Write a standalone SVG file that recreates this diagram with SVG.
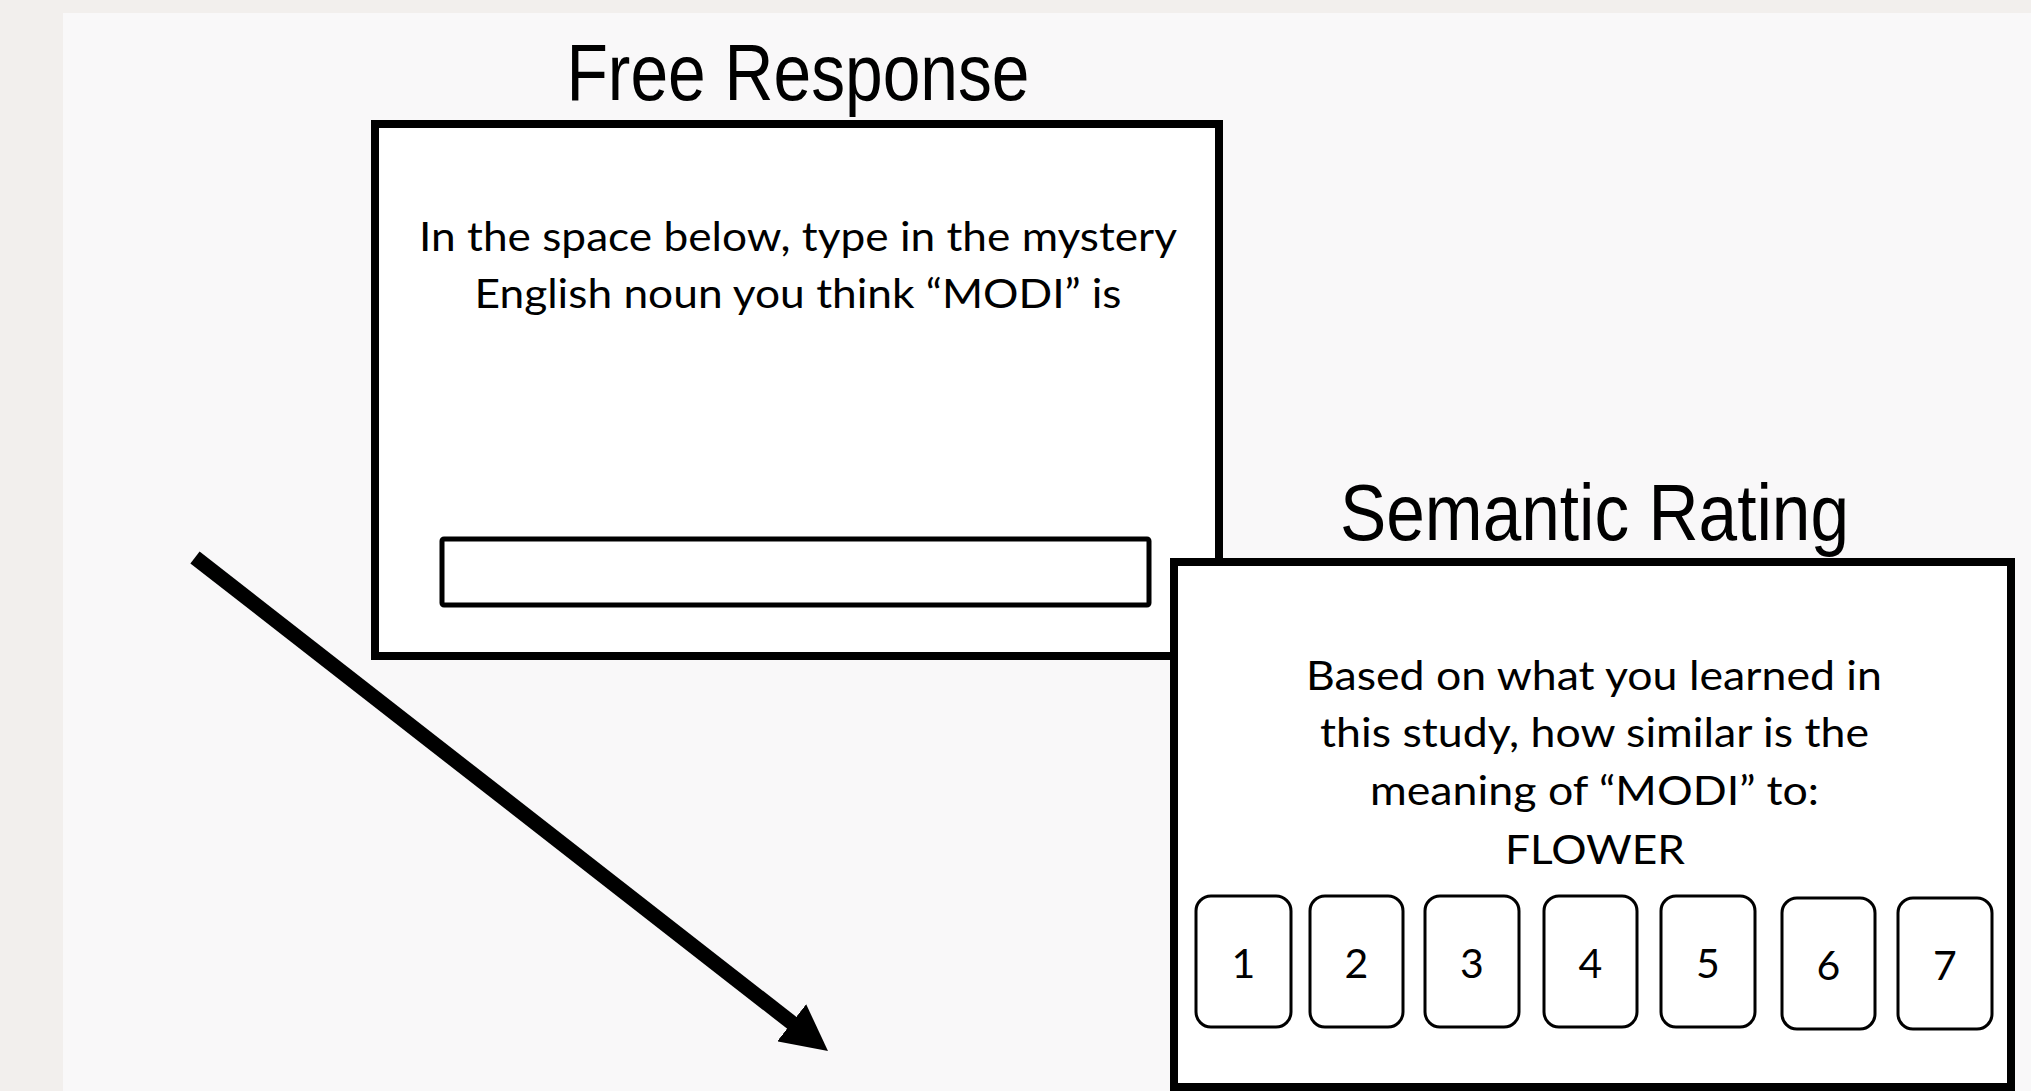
<svg xmlns="http://www.w3.org/2000/svg" width="2031" height="1091" viewBox="0 0 2031 1091">
<style>
.title{font-family:"Liberation Sans",Arial,sans-serif;font-size:80px;fill:#000;text-anchor:middle}
.body{font-family:Lato,"Open Sans","Noto Sans",sans-serif;font-size:41px;fill:#000;text-anchor:middle}
.frame{fill:#fff;stroke:#000;stroke-width:8}
.field{fill:#fff;stroke:#000;stroke-width:5}
.opt{fill:#fff;stroke:#000;stroke-width:3}
</style>
<defs>
<marker id="head" markerUnits="userSpaceOnUse" viewBox="0 0 46 47" markerWidth="46" markerHeight="47" refX="10" refY="23.5" orient="auto">
<path d="M0,0 L46,23.5 L0,47 Z" fill="#000"/>
</marker>
</defs>
<rect x="0" y="0" width="2031" height="1091" fill="#f2efed"/>
<rect x="63" y="13" width="1968" height="1078" fill="#f9f8f9"/>
<g id="free-response">
<text class="title" x="798" y="100" textLength="463" lengthAdjust="spacingAndGlyphs">Free Response</text>
<rect class="frame" x="375" y="124" width="844" height="532"/>
<text class="body" x="798" y="251" textLength="758" lengthAdjust="spacingAndGlyphs">In the space below, type in the mystery</text>
<text class="body" x="798" y="308" textLength="647" lengthAdjust="spacingAndGlyphs">English noun you think “MODI” is</text>
<rect class="field" x="442" y="539" width="707" height="66" rx="2"/>
</g>
<g id="connectors">
<line x1="195" y1="557.5" x2="799.6" y2="1028.9" stroke="#000" stroke-width="15" marker-end="url(#head)"/>
</g>
<g id="semantic-rating">
<text class="title" x="1594.5" y="540" textLength="509" lengthAdjust="spacingAndGlyphs">Semantic Rating</text>
<rect class="frame" x="1174" y="562" width="837" height="525"/>
<text class="body" x="1594" y="690" textLength="576" lengthAdjust="spacingAndGlyphs">Based on what you learned in</text>
<text class="body" x="1594.5" y="747" textLength="549" lengthAdjust="spacingAndGlyphs">this study, how similar is the</text>
<text class="body" x="1594.5" y="805" textLength="449" lengthAdjust="spacingAndGlyphs">meaning of “MODI” to:</text>
<text class="body" x="1595" y="864" textLength="180" lengthAdjust="spacingAndGlyphs">FLOWER</text>
<g id="opt1"><rect class="opt" x="1196" y="896" width="95" height="131" rx="15"/><text class="body" x="1243.5" y="978">1</text></g>
<g id="opt2"><rect class="opt" x="1310" y="896" width="93" height="131" rx="15"/><text class="body" x="1356.5" y="978">2</text></g>
<g id="opt3"><rect class="opt" x="1425" y="896" width="94" height="131" rx="15"/><text class="body" x="1472" y="978">3</text></g>
<g id="opt4"><rect class="opt" x="1544" y="896" width="93" height="131" rx="15"/><text class="body" x="1590.5" y="978">4</text></g>
<g id="opt5"><rect class="opt" x="1661" y="896" width="94" height="131" rx="15"/><text class="body" x="1708" y="978">5</text></g>
<g id="opt6"><rect class="opt" x="1782" y="898" width="93" height="131" rx="15"/><text class="body" x="1828.5" y="980">6</text></g>
<g id="opt7"><rect class="opt" x="1898" y="898" width="94" height="131" rx="15"/><text class="body" x="1945" y="980">7</text></g>
</g>
</svg>
